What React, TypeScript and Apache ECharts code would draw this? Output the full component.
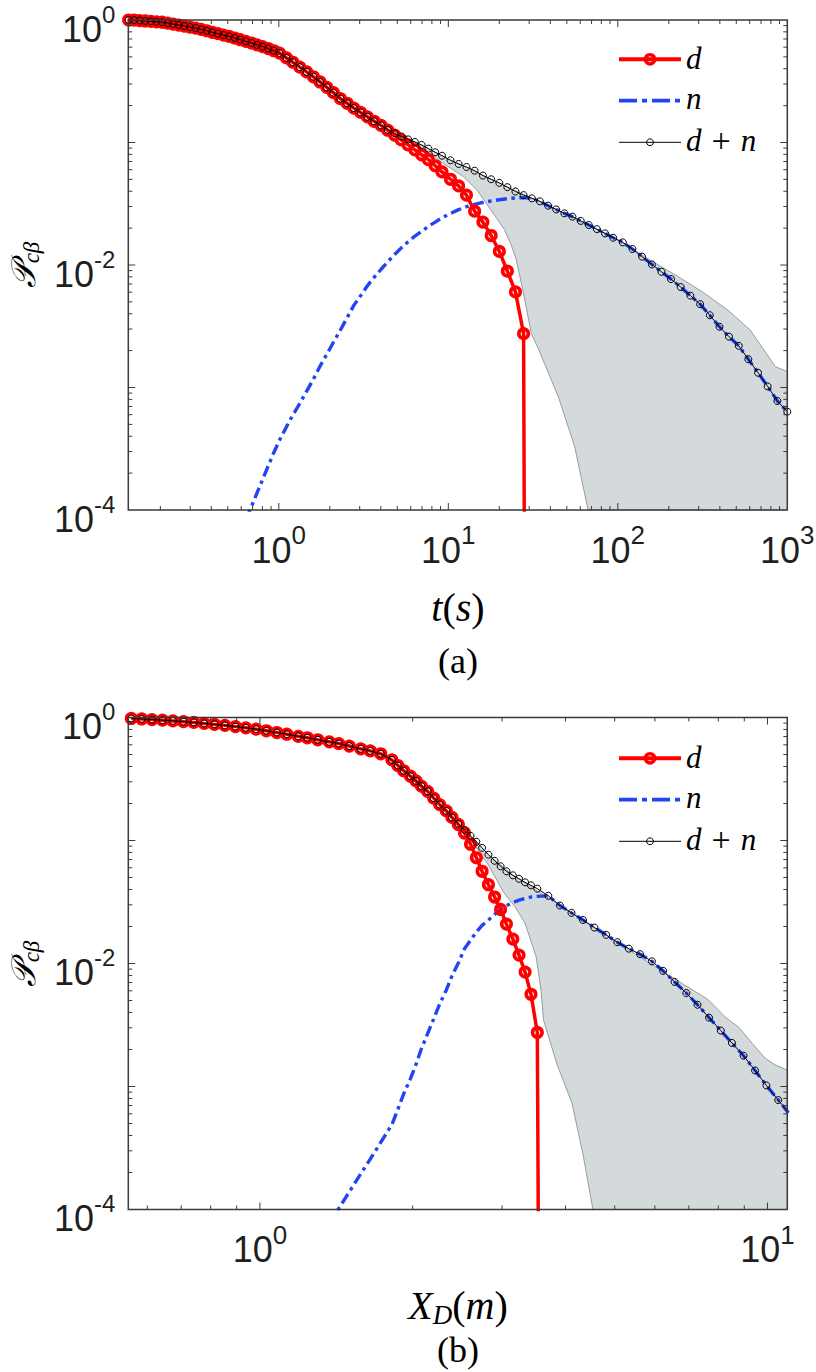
import React, { useEffect, useRef } from "react";
import * as echarts from "echarts";

// ---------------- Panel (a): time t (s) ----------------
const tA = [
  0.13, 0.14, 0.151, 0.163, 0.176, 0.19, 0.205, 0.221, 0.238, 0.257, 0.277, 0.299, 0.323, 0.348, 0.376, 0.405, 0.437,
  0.472, 0.509, 0.549, 0.592, 0.639, 0.69, 0.744, 0.803, 0.866, 0.935,
  1.01, 1.11, 1.21, 1.33, 1.46, 1.6, 1.75, 1.92, 2.1, 2.31, 2.53, 2.77, 3.04, 3.33, 3.65, 4.01, 4.39, 4.82, 5.28, 5.79,
  6.35, 6.96, 7.63, 8.37, 9.18,
  10.3, 11.5, 12.8, 14.3, 16.0, 17.9, 20.0, 22.3, 24.9, 27.8, 31.1, 34.7, 38.8, 43.3, 48.4, 54.0, 60.4, 67.4, 75.3, 84.1, 93.9,
  107, 122, 139, 159, 181, 206, 235, 268, 306, 349, 398, 453, 517, 589, 672, 766, 874, 1000,
];
// d + n (black, small circles)
const dnA = [
  1.0, 0.998, 0.99, 0.982, 0.975, 0.966, 0.959, 0.944, 0.927, 0.91, 0.893, 0.875, 0.859, 0.838, 0.817, 0.794, 0.774,
  0.753, 0.735, 0.713, 0.69, 0.67, 0.649, 0.627, 0.607, 0.585, 0.561,
  0.537, 0.49, 0.452, 0.412, 0.377, 0.344, 0.312, 0.282, 0.255, 0.228, 0.209, 0.191, 0.176, 0.162, 0.149, 0.138, 0.127,
  0.119, 0.112, 0.106, 0.101, 0.0955, 0.0891, 0.0832, 0.078,
  0.0716, 0.0668, 0.0631, 0.0589, 0.0537, 0.0501, 0.0468, 0.0432, 0.0398, 0.0372, 0.035, 0.0331, 0.0305, 0.0284, 0.0264,
  0.0248, 0.0229, 0.0212, 0.0196, 0.0181, 0.0167,
  0.0153, 0.0135, 0.0117, 0.0101, 0.0088, 0.00767, 0.0066, 0.00562, 0.00479, 0.00389, 0.00313, 0.0026, 0.00219, 0.0017,
  0.00132, 0.00102, 0.000776, 0.000635,
];
// d (red, big circles) – first 62 time points, then it falls to zero
const dA = [
  1.0, 0.998, 0.99, 0.982, 0.975, 0.966, 0.959, 0.944, 0.927, 0.91, 0.893, 0.875, 0.859, 0.838, 0.817, 0.794, 0.774,
  0.753, 0.735, 0.713, 0.69, 0.67, 0.649, 0.627, 0.607, 0.585, 0.561,
  0.537, 0.49, 0.452, 0.412, 0.377, 0.344, 0.312, 0.282, 0.255, 0.228, 0.209, 0.191, 0.176, 0.162, 0.149, 0.138, 0.126,
  0.115, 0.105, 0.0955, 0.0871, 0.0794, 0.0724, 0.0646, 0.0575,
  0.0501, 0.0442, 0.0372, 0.0275, 0.0224, 0.0174, 0.0129, 0.0089, 0.00603, 0.00275,
];
const dEndA = [31.1, 1e-20];
// n (blue dash-dot) – starts at tA[21]
const nStartA = 21;
const nA = [
  8.32e-5, 1.07e-4, 1.38e-4, 1.78e-4, 2.29e-4, 2.95e-4, 3.72e-4, 4.79e-4, 5.96e-4, 7.41e-4, 9.33e-4, 1.17e-3, 1.49e-3,
  1.87e-3, 2.34e-3, 2.95e-3, 3.72e-3, 4.68e-3, 5.62e-3, 6.76e-3, 7.94e-3, 9.23e-3, 0.0106, 0.0122, 0.0138, 0.0155,
  0.0172, 0.0188, 0.0207, 0.0224, 0.0243, 0.0263, 0.0283, 0.0299, 0.0313, 0.0324, 0.0333, 0.0341, 0.0348, 0.0353, 0.0355,
  0.035, 0.0331, 0.0305, 0.0284, 0.0264, 0.0248, 0.0229, 0.0212, 0.0196, 0.0181, 0.0167,
  0.0153, 0.0135, 0.0117, 0.0101, 0.0088, 0.00767, 0.0066, 0.00562, 0.00479, 0.00389, 0.00313, 0.0026, 0.00219, 0.0017,
  0.00132, 0.00102, 0.000776, 0.000635,
];
// grey envelope
const bandUpTA = [5.0, 7.08, 10, 15.8, 22.4, 31.6, 50, 100, 158, 224, 316, 447, 603, 851, 1000];
const bandUpA = [0.116, 0.094, 0.0735, 0.0545, 0.0432, 0.0348, 0.0259, 0.016, 0.0108, 0.00813, 0.00603, 0.00427, 0.00295, 0.00148, 0.00135];
const bandLoTA = [5.0, 7.08, 9.33, 12.3, 14.8, 17.8, 21.4, 23.4, 25.1, 27.5, 30.9, 33.9, 44.7, 55.6, 66.8];
const bandLoA = [0.115, 0.0871, 0.0676, 0.0525, 0.0407, 0.0282, 0.0195, 0.0148, 0.0112, 0.0063, 0.00275, 0.00209, 0.000832, 0.000331, 0.0001];

// ---------------- Panel (b): distance X_D (m) ----------------
const xB = [
  0.558, 0.585, 0.613, 0.643, 0.674, 0.707, 0.741, 0.777, 0.814, 0.853, 0.895, 0.938, 0.983, 1.03, 1.08, 1.13, 1.19,
  1.24, 1.3, 1.37, 1.43, 1.5, 1.58, 1.65, 1.73, 1.82,
  1.87, 1.92, 1.98, 2.03, 2.08, 2.14, 2.2, 2.26, 2.33, 2.39, 2.46, 2.53, 2.6, 2.67, 2.74, 2.82, 2.9, 2.98, 3.06, 3.15,
  3.24, 3.33, 3.42, 3.52,
  3.7, 3.9, 4.11, 4.33, 4.56, 4.81, 5.06, 5.33, 5.61, 5.92, 6.23, 6.56, 6.92, 7.28, 7.67, 8.09, 8.51, 8.97, 9.45, 9.95,
  10.5, 11.0,
];
const dnB = [
  0.982, 0.973, 0.962, 0.951, 0.938, 0.925, 0.912, 0.895, 0.879, 0.863, 0.843, 0.824, 0.804, 0.78, 0.755, 0.731, 0.703,
  0.684, 0.659, 0.634, 0.614, 0.586, 0.556, 0.535, 0.507, 0.452,
  0.407, 0.369, 0.333, 0.305, 0.277, 0.251, 0.221, 0.196, 0.174, 0.154, 0.137, 0.122, 0.109, 0.0977, 0.0871, 0.0767,
  0.0684, 0.0617, 0.0562, 0.0521, 0.0488, 0.0457, 0.0432, 0.0406,
  0.0355, 0.0296, 0.0258, 0.0226, 0.0196, 0.0171, 0.0149, 0.0132, 0.0119, 0.0104, 0.00871, 0.00708, 0.00575, 0.00462,
  0.00363, 0.00285, 0.00226, 0.00178, 0.00135, 0.00102, 0.000776, 0.00061,
];
const dB = [
  0.982, 0.973, 0.962, 0.951, 0.938, 0.925, 0.912, 0.895, 0.879, 0.863, 0.843, 0.824, 0.804, 0.78, 0.755, 0.731, 0.703,
  0.684, 0.659, 0.634, 0.614, 0.586, 0.556, 0.535, 0.507, 0.452,
  0.407, 0.369, 0.333, 0.305, 0.277, 0.251, 0.221, 0.196, 0.174, 0.154, 0.135, 0.115, 0.0933, 0.0724, 0.0562, 0.0437,
  0.0347, 0.0275, 0.0209, 0.0158, 0.0117, 0.00851, 0.00562, 0.00275,
];
const dEndB = [3.7, 1e-20];
const nStartB = 19;
const nB = [
  7.76e-5, 1.02e-4, 1.39e-4, 1.95e-4, 2.57e-4, 3.51e-4, 4.9e-4, 6.53e-4, 8.71e-4, 1.16e-3, 1.51e-3, 2.02e-3, 2.69e-3,
  3.55e-3, 4.68e-3, 6.1e-3, 7.94e-3, 0.0101, 0.0132, 0.0155, 0.018, 0.0204, 0.0226, 0.0251, 0.0275, 0.0295, 0.0313,
  0.0327, 0.0339, 0.0347, 0.0351,
  0.0355, 0.0296, 0.0258, 0.0226, 0.0196, 0.0171, 0.0149, 0.0132, 0.0119, 0.0104, 0.00871, 0.00708, 0.00575, 0.00462,
  0.00363, 0.00285, 0.00226, 0.00178, 0.00135, 0.00102, 0.000776, 0.00061,
];
const bandUpTB = [2.45, 2.82, 3.16, 4.0, 5.0, 6.31, 7.62, 8.28, 8.79, 9.33, 9.89, 10.35, 10.94];
const bandUpB = [0.14, 0.0767, 0.0518, 0.0278, 0.0153, 0.0083, 0.00513, 0.00363, 0.00302, 0.00224, 0.0017, 0.0015, 0.00136];
const bandLoTB = [2.45, 2.63, 2.82, 3.02, 3.18, 3.33, 3.5, 3.58, 3.62, 3.85, 4.12, 4.33, 4.53];
const bandLoB = [0.138, 0.0955, 0.0631, 0.038, 0.029, 0.0212, 0.0114, 0.0061, 0.00347, 0.00151, 0.00073, 0.000282, 0.0001];

// ---------------- axes ----------------
const xRangeA = [0.1294, 1000];
const xRangeB = [0.5505, 10.94];
const yRange = [1e-4, 1];
const xLabelExpA = [0, 1, 2, 3];
const xLabelExpB = [0, 1];
const yLabelExp = [0, -2, -4];
const majorXA = [1, 10, 100];
const minorXA = [0.2, 0.3, 0.4, 0.5, 0.6, 0.7, 0.8, 0.9, 2, 3, 4, 5, 6, 7, 8, 9, 20, 30, 40, 50, 60, 70, 80, 90, 200, 300, 400, 500, 600, 700, 800, 900];
const majorXB = [1, 10];
const minorXB = [0.6, 0.7, 0.8, 0.9, 2, 3, 4, 5, 6, 7, 8, 9];
const majorY = [1e-3, 1e-2, 1e-1];
const minorY = [
  2e-4, 3e-4, 4e-4, 5e-4, 6e-4, 7e-4, 8e-4, 9e-4, 2e-3, 3e-3, 4e-3, 5e-3, 6e-3, 7e-3, 8e-3, 9e-3,
  0.02, 0.03, 0.04, 0.05, 0.06, 0.07, 0.08, 0.09, 0.2, 0.3, 0.4, 0.5, 0.6, 0.7, 0.8, 0.9,
];

const SANS = '"Liberation Sans", Arial, Helvetica, sans-serif';
const SERIF = '"Liberation Serif", "Times New Roman", serif';
const RED = "#ff0000";
const BLUE = "#2145f5";
const AXIS = "#3a3a3a";
const LABEL = "#1f1f1f";

const richTickX = {
  b: { fontSize: 36, fontFamily: SANS, color: LABEL, lineHeight: 40 },
  s: { fontSize: 26, fontFamily: SANS, color: LABEL, lineHeight: 26, padding: [0, 0, 30, 0] },
};
const richTickY = {
  b: { fontSize: 36, fontFamily: SANS, color: LABEL, lineHeight: 40 },
  s: { fontSize: 24, fontFamily: SANS, color: LABEL, lineHeight: 26, padding: [0, 0, 30, 0] },
};

function powLabel(v: number, exps: number[]) {
  const l = Math.log10(v);
  const e = Math.round(l);
  if (Math.abs(l - e) > 1e-6 || exps.indexOf(e) < 0) return "";
  return `{b|10}{s|${e}}`;
}

function zip(xs: number[], ys: number[], offset = 0) {
  return ys.map((y, i) => [xs[i + offset], y]);
}

function bandSeries(gi: number, upT: number[], up: number[], loT: number[], lo: number[], xMax: number, yMin: number) {
  return {
    type: "custom",
    xAxisIndex: gi,
    yAxisIndex: gi,
    silent: true,
    z: 1,
    data: [[upT[0], up[0]]],
    renderItem: (params: any, api: any) => {
      const pts: number[][] = [];
      for (let i = 0; i < upT.length; i++) pts.push(api.coord([upT[i], up[i]]));
      pts.push(api.coord([xMax, yMin]));
      for (let i = loT.length - 1; i >= 0; i--) pts.push(api.coord([loT[i], lo[i]]));
      return {
        type: "polygon",
        shape: { points: pts },
        style: { fill: "#d4dadb", stroke: "#8d9495", lineWidth: 0.9 },
      };
    },
  };
}

function tickSeries(gi: number, xMin: number, yMin: number, mjx: number[], mnx: number[]) {
  const data: number[][] = [];
  mjx.forEach((v) => data.push([v, yMin, 0, 7]));
  mnx.forEach((v) => data.push([v, yMin, 0, 4]));
  majorY.forEach((v) => data.push([xMin, v, 1, 7]));
  minorY.forEach((v) => data.push([xMin, v, 1, 4]));
  data.push([xMin, yMin, 2, 0]);
  return {
    type: "custom",
    xAxisIndex: gi,
    yAxisIndex: gi,
    silent: true,
    z: 20,
    data,
    renderItem: (params: any, api: any) => {
      const cs = params.coordSys;
      const kind = api.value(2);
      const len = api.value(3);
      const st = { stroke: AXIS, lineWidth: 1 };
      if (kind === 2) {
        return {
          type: "rect",
          shape: { x: cs.x, y: cs.y, width: cs.width, height: cs.height },
          style: { fill: "none", stroke: AXIS, lineWidth: 1.5 },
        };
      }
      const p = api.coord([api.value(0), api.value(1)]);
      if (kind === 0) {
        const b = cs.y + cs.height;
        return {
          type: "group",
          children: [
            { type: "line", shape: { x1: p[0], y1: b, x2: p[0], y2: b - len }, style: st },
            { type: "line", shape: { x1: p[0], y1: cs.y, x2: p[0], y2: cs.y + len }, style: st },
          ],
        };
      }
      const r = cs.x + cs.width;
      return {
        type: "group",
        children: [
          { type: "line", shape: { x1: cs.x, y1: p[1], x2: cs.x + len, y2: p[1] }, style: st },
          { type: "line", shape: { x1: r, y1: p[1], x2: r - len, y2: p[1] }, style: st },
        ],
      };
    },
  };
}

function lineSeries(gi: number) {
  return {
    xAxisIndex: gi,
    yAxisIndex: gi,
    type: "line",
    silent: true,
    clip: true,
    emphasis: { disabled: true },
  };
}

function panelSeries(
  gi: number,
  xs: number[],
  dn: number[],
  d: number[],
  dEnd: number[],
  nStart: number,
  n: number[],
  band: any,
  xMin: number,
  mjx: number[],
  mnx: number[]
) {
  return [
    band,
    {
      ...lineSeries(gi),
      z: 2,
      showSymbol: false,
      symbol: "none",
      lineStyle: { color: BLUE, width: 3.4, type: [11, 4.5, 3.5, 4.5], cap: "butt" },
      data: zip(xs, n, nStart),
    },
    {
      ...lineSeries(gi),
      z: 3,
      symbol: "circle",
      symbolSize: 9.5,
      itemStyle: { color: "rgba(255,255,255,0)", borderColor: RED, borderWidth: 3.6 },
      lineStyle: { color: RED, width: 3.5 },
      data: [...zip(xs, d), { value: dEnd, symbol: "none" }],
    },
    {
      ...lineSeries(gi),
      z: 4,
      symbol: "circle",
      symbolSize: 7,
      itemStyle: { color: "rgba(255,255,255,0)", borderColor: "#000", borderWidth: 1 },
      lineStyle: { color: "#000", width: 1 },
      data: zip(xs, dn),
    },
    tickSeries(gi, xMin, yRange[0], mjx, mnx),
  ];
}

function legend(dy: number) {
  const FS = 31;
  const txt = (y: number, rich: string) => ({
    type: "text",
    x: 686,
    y: y + dy,
    style: {
      text: rich,
      rich: {
        i: { fontFamily: SERIF, fontStyle: "italic", fontSize: FS, fill: "#000", color: "#000" },
        r: { fontFamily: SERIF, fontSize: FS + 3, fill: "#000", color: "#000", padding: [0, 10, 0, 10] },
      },
      fontFamily: SERIF,
      fontStyle: "italic",
      fontSize: FS,
      fill: "#000",
      align: "left",
      textAlign: "left",
      verticalAlign: "middle",
      textVerticalAlign: "middle",
    },
  });
  return [
    { type: "line", shape: { x1: 619, y1: 59.3 + dy, x2: 681, y2: 59.3 + dy }, style: { stroke: RED, lineWidth: 4 } },
    { type: "circle", shape: { cx: 650, cy: 59.3 + dy, r: 4.6 }, style: { fill: "none", stroke: RED, lineWidth: 3.4 } },
    txt(58, "{i|d}"),
    {
      type: "line",
      shape: { x1: 619, y1: 100.7 + dy, x2: 681, y2: 100.7 + dy },
      style: { stroke: BLUE, lineWidth: 3.8, lineDash: [18, 5, 5, 5] },
    },
    txt(98.5, "{i|n}"),
    { type: "line", shape: { x1: 619, y1: 142.3 + dy, x2: 681, y2: 142.3 + dy }, style: { stroke: "#000", lineWidth: 1 } },
    { type: "circle", shape: { cx: 650, cy: 142.3 + dy, r: 3.4 }, style: { fill: "none", stroke: "#000", lineWidth: 1 } },
    txt(140, "{i|d}{r|+}{i|n}"),
  ];
}

function textEl(x: number, y: number, text: string, rich: any, extra: any = {}) {
  return {
    type: "text",
    x,
    y,
    ...extra,
    style: {
      text,
      rich,
      fontFamily: SERIF,
      fontSize: 30,
      fill: "#000",
      align: "center",
      textAlign: "center",
      verticalAlign: "middle",
      textVerticalAlign: "middle",
    },
  };
}

const richMath = {
  i: { fontFamily: SERIF, fontStyle: "italic", fontSize: 40, color: "#000" },
  r: { fontFamily: SERIF, fontSize: 40, color: "#000" },
  sub: { fontFamily: SERIF, fontStyle: "italic", fontSize: 27, color: "#000", padding: [20, 0, 0, 0] },
  u: { fontFamily: SERIF, fontSize: 36, color: "#000" },
};
const richP = {
  p: { fontFamily: '"DejaVu Serif", "DejaVu Sans", serif', fontStyle: "italic", fontSize: 34, color: "#000" },
  s: { fontFamily: SERIF, fontStyle: "italic", fontSize: 23, color: "#000", padding: [16, 0, 0, 0] },
};

function buildOption() {
  const grids = [
    { left: 128.3, top: 20, width: 659, height: 490, outerBoundsMode: "none", containLabel: false },
    { left: 128.3, top: 717.5, width: 659, height: 492, outerBoundsMode: "none", containLabel: false },
  ];
  const xAxis = [
    { range: xRangeA, exps: xLabelExpA },
    { range: xRangeB, exps: xLabelExpB },
  ].map((c, gi) => ({
    type: "log",
    logBase: 10,
    gridIndex: gi,
    min: c.range[0],
    max: c.range[1],
    axisLine: { show: false },
    axisTick: { show: false },
    minorTick: { show: false },
    splitLine: { show: false },
    axisLabel: {
      margin: 8,
      padding: [12, 0, 0, 0],
      hideOverlap: false,
      showMinLabel: true,
      showMaxLabel: true,
      formatter: (v: number) => powLabel(v, c.exps),
      rich: richTickX,
    },
  }));
  const yAxis = [0, 1].map((gi) => ({
    type: "log",
    logBase: 10,
    gridIndex: gi,
    min: yRange[0],
    max: yRange[1],
    axisLine: { show: false },
    axisTick: { show: false },
    minorTick: { show: false },
    splitLine: { show: false },
    axisLabel: {
      margin: 13,
      padding: [18, 0, 0, 0],
      hideOverlap: false,
      showMinLabel: true,
      showMaxLabel: true,
      formatter: (v: number) => powLabel(v, yLabelExp),
      rich: richTickY,
    },
  }));

  const series = [
    ...panelSeries(
      0, tA, dnA, dA, dEndA, nStartA, nA,
      bandSeries(0, bandUpTA, bandUpA, bandLoTA, bandLoA, xRangeA[1], yRange[0]),
      xRangeA[0], majorXA, minorXA
    ),
    ...panelSeries(
      1, xB, dnB, dB, dEndB, nStartB, nB,
      bandSeries(1, bandUpTB, bandUpB, bandLoTB, bandLoB, xRangeB[1], yRange[0]),
      xRangeB[0], majorXB, minorXB
    ),
  ];

  const graphic = [
    ...legend(0),
    ...legend(699),
    textEl(458, 607, "{i|t}{r|(}{i|s}{r|)}", richMath),
    textEl(458, 661, "{u|(a)}", richMath),
    textEl(458, 1305, "{i|X}{sub|D}{r|(}{i|m}{r|)}", richMath),
    textEl(458, 1350, "{u|(b)}", richMath),
    textEl(23, 265, "{p|\u{1D4AB}}{s|cβ}", richP, { rotation: Math.PI / 2 }),
    textEl(23, 964, "{p|\u{1D4AB}}{s|cβ}", richP, { rotation: Math.PI / 2 }),
  ];

  return {
    animation: false,
    backgroundColor: "#ffffff",
    grid: grids,
    xAxis,
    yAxis,
    series,
    graphic,
  };
}

export default function App() {
  const ref = useRef<HTMLDivElement>(null);
  useEffect(() => {
    const chart = echarts.init(ref.current as HTMLDivElement, undefined, { renderer: "svg" });
    chart.setOption(buildOption() as any);
    return () => chart.dispose();
  }, []);
  return (
    <div
      ref={ref}
      style={{ position: "absolute", left: 0, top: 0, width: 816, height: 1372, background: "#fff" }}
    />
  );
}
